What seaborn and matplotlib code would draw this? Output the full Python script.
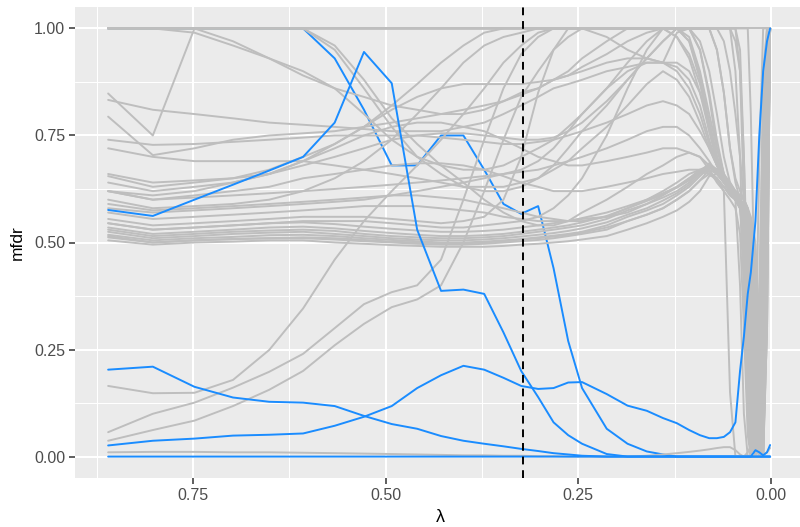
import matplotlib
matplotlib.use("Agg")
import matplotlib.pyplot as plt
import numpy as np
import pandas as pd
import seaborn as sns
from matplotlib.ticker import FixedLocator

# ---------------- data ----------------
lam = [0.860, 0.802, 0.748, 0.698, 0.651, 0.607, 0.566, 0.528, 0.492, 0.459,
       0.428, 0.399, 0.372, 0.347, 0.324, 0.302, 0.282, 0.263, 0.245, 0.213,
       0.186, 0.161, 0.140, 0.122, 0.106, 0.092, 0.080, 0.070, 0.061, 0.053,
       0.046, 0.040, 0.035, 0.030, 0.026, 0.020, 0.015, 0.010, 0.005, 0.001]

lambda_selected = 0.321

# highlighted (blue) variables
blueA = [1.0, 1.0, 1.0, 1.0, 1.0, 1.0, 0.93, 0.81, 0.68, 0.68,
         0.75, 0.75, 0.67, 0.59, 0.567, 0.585, 0.44, 0.27, 0.16, 0.065,
         0.03, 0.012, 0.005, 0.0, 0.0, 0.0, 0.0, 0.0, 0.0, 0.0,
         0.0, 0.0, 0.0, 0.0, 0.0, 0.0, 0.0, 0.0, 0.0, 0.0]
blueB = [0.576, 0.562, 0.60, 0.635, 0.668, 0.70, 0.78, 0.945, 0.872, 0.53,
         0.387, 0.39, 0.38, 0.29, 0.20, 0.139, 0.08, 0.05, 0.03, 0.006,
         0.0, 0.0, 0.0, 0.0, 0.0, 0.0, 0.0, 0.0, 0.0, 0.0,
         0.0, 0.0, 0.0, 0.0, 0.0, 0.0, 0.0, 0.0, 0.0, 0.0]
blueC = [0.203, 0.21, 0.163, 0.138, 0.128, 0.126, 0.118, 0.095, 0.076, 0.065,
         0.048, 0.037, 0.03, 0.024, 0.018, 0.013, 0.008, 0.005, 0.002, 0.0,
         0.0, 0.0, 0.0, 0.0, 0.0, 0.0, 0.0, 0.0, 0.0, 0.0,
         0.0, 0.0, 0.0, 0.0, 0.0, 0.0, 0.0, 0.0, 0.0, 0.0]
blueD = [0.026, 0.037, 0.042, 0.049, 0.051, 0.054, 0.072, 0.093, 0.118, 0.16,
         0.19, 0.212, 0.203, 0.184, 0.165, 0.158, 0.16, 0.173, 0.174, 0.146,
         0.119, 0.107, 0.09, 0.078, 0.062, 0.05, 0.043, 0.043, 0.046, 0.057,
         0.08, 0.20, 0.28, 0.38, 0.43, 0.55, 0.75, 0.90, 0.97, 1.0]
blueE = [0.0, 0.0, 0.0, 0.0, 0.0, 0.0, 0.0, 0.0, 0.0, 0.0,
         0.0, 0.0, 0.0, 0.0, 0.0, 0.0, 0.0, 0.0, 0.0, 0.0,
         0.0, 0.0, 0.0, 0.0, 0.0, 0.0, 0.0, 0.0, 0.0, 0.0,
         0.0, 0.0, 0.0, 0.0, 0.0, 0.015, 0.01, 0.003, 0.01, 0.027]

# other (grey) variables
g01 = [1.0, 1.0, 1.0, 1.0, 1.0, 1.0, 1.0, 1.0, 1.0, 1.0,
       1.0, 1.0, 1.0, 1.0, 1.0, 1.0, 1.0, 1.0, 1.0, 1.0,
       1.0, 1.0, 1.0, 1.0, 1.0, 1.0, 1.0, 1.0, 1.0, 1.0,
       1.0, 1.0, 1.0, 1.0, 1.0, 1.0, 1.0, 1.0, 1.0, 1.0]
g02 = [1.0, 1.0, 1.0, 1.0, 1.0, 1.0, 1.0, 1.0, 1.0, 1.0,
       1.0, 1.0, 1.0, 1.0, 1.0, 1.0, 1.0, 1.0, 1.0, 1.0,
       1.0, 1.0, 1.0, 1.0, 1.0, 1.0, 1.0, 1.0, 1.0, 1.0,
       1.0, 0.95, 0.7, 0.35, 0.1, 0.0, 0.1, 0.5, 0.9, 1.0]
g03 = [1.0, 1.0, 1.0, 1.0, 1.0, 1.0, 1.0, 1.0, 1.0, 1.0,
       1.0, 1.0, 1.0, 1.0, 1.0, 1.0, 1.0, 1.0, 1.0, 1.0,
       1.0, 1.0, 1.0, 1.0, 1.0, 1.0, 1.0, 1.0, 1.0, 1.0,
       1.0, 1.0, 1.0, 1.0, 0.8, 0.3, 0.05, 0.3, 0.8, 1.0]
g04 = [1.0, 1.0, 1.0, 1.0, 1.0, 1.0, 1.0, 1.0, 1.0, 1.0,
       1.0, 1.0, 1.0, 1.0, 1.0, 1.0, 1.0, 1.0, 1.0, 0.98,
       0.95, 0.93, 0.92, 0.99, 1.0, 1.0, 1.0, 1.0, 1.0, 1.0,
       0.97, 0.9, 0.7, 0.4, 0.15, 0.0, 0.05, 0.4, 0.85, 1.0]
g05 = [1.0, 1.0, 1.0, 0.97, 0.93, 0.89, 0.86, 0.84, 0.82, 0.81,
       0.80, 0.80, 0.81, 0.83, 0.85, 0.86, 0.88, 0.89, 0.90, 0.92,
       0.93, 0.93, 0.92, 0.91, 0.88, 0.82, 0.74, 0.68, 0.64, 0.62,
       0.61, 0.60, 0.58, 0.55, 0.45, 0.20, 0.02, 0.10, 0.60, 1.0]
g06 = [1.0, 1.0, 0.99, 0.96, 0.93, 0.90, 0.86, 0.80, 0.74, 0.70,
       0.68, 0.67, 0.67, 0.68, 0.70, 0.72, 0.74, 0.77, 0.80, 0.86,
       0.92, 0.97, 1.0, 1.0, 0.97, 0.88, 0.76, 0.69, 0.65, 0.63,
       0.61, 0.60, 0.59, 0.57, 0.50, 0.30, 0.05, 0.0, 0.4, 1.0]
g07 = [1.0, 1.0, 1.0, 1.0, 1.0, 1.0, 0.95, 0.86, 0.77, 0.70,
       0.66, 0.63, 0.62, 0.62, 0.63, 0.65, 0.68, 0.72, 0.76, 0.82,
       0.88, 0.93, 0.97, 1.0, 1.0, 0.95, 0.84, 0.72, 0.66, 0.62,
       0.60, 0.59, 0.58, 0.56, 0.52, 0.40, 0.15, 0.0, 0.3, 1.0]
g08 = [1.0, 1.0, 1.0, 1.0, 1.0, 1.0, 0.96, 0.88, 0.79, 0.73,
       0.68, 0.64, 0.60, 0.57, 0.55, 0.54, 0.54, 0.55, 0.57, 0.60,
       0.63, 0.66, 0.68, 0.70, 0.71, 0.70, 0.67, 0.64, 0.62, 0.60,
       0.58, 0.52, 0.30, 0.05, 0.0, 0.0, 0.1, 0.4, 0.8, 1.0]
g09 = [0.848, 0.75, 1.0, 1.0, 1.0, 1.0, 1.0, 1.0, 1.0, 1.0,
       1.0, 1.0, 1.0, 1.0, 1.0, 1.0, 1.0, 1.0, 1.0, 1.0,
       1.0, 1.0, 1.0, 1.0, 1.0, 0.97, 0.90, 0.80, 0.70, 0.64,
       0.62, 0.60, 0.55, 0.30, 0.05, 0.0, 0.2, 0.7, 1.0, 1.0]
g10 = [0.833, 0.81, 0.80, 0.79, 0.78, 0.775, 0.77, 0.765, 0.76, 0.76,
       0.76, 0.77, 0.78, 0.80, 0.82, 0.84, 0.86, 0.87, 0.88, 0.90,
       0.91, 0.92, 0.92, 0.92, 0.90, 0.85, 0.78, 0.70, 0.65, 0.62,
       0.61, 0.60, 0.58, 0.55, 0.50, 0.35, 0.10, 0.0, 0.5, 1.0]
g11 = [0.794, 0.704, 0.72, 0.74, 0.75, 0.755, 0.76, 0.77, 0.78, 0.79,
       0.80, 0.81, 0.82, 0.83, 0.845, 0.86, 0.88, 0.90, 0.93, 0.97,
       1.0, 1.0, 1.0, 0.98, 0.93, 0.85, 0.76, 0.69, 0.65, 0.62,
       0.60, 0.58, 0.56, 0.50, 0.30, 0.10, 0.0, 0.05, 0.5, 1.0]
g12 = [0.74, 0.728, 0.73, 0.735, 0.74, 0.745, 0.75, 0.75, 0.75, 0.75,
       0.745, 0.74, 0.735, 0.73, 0.73, 0.735, 0.74, 0.75, 0.76, 0.78,
       0.80, 0.82, 0.83, 0.82, 0.80, 0.76, 0.72, 0.68, 0.65, 0.63,
       0.62, 0.60, 0.45, 0.15, 0.0, 0.0, 0.1, 0.5, 0.9, 1.0]
g13 = [0.72, 0.70, 0.69, 0.69, 0.69, 0.69, 0.68, 0.67, 0.66, 0.65,
       0.64, 0.63, 0.63, 0.63, 0.64, 0.65, 0.67, 0.69, 0.72, 0.77,
       0.82, 0.87, 0.90, 0.88, 0.84, 0.78, 0.72, 0.68, 0.65, 0.63,
       0.61, 0.60, 0.58, 0.52, 0.40, 0.10, 0.0, 0.2, 0.7, 1.0]
g14 = [0.66, 0.64, 0.645, 0.65, 0.66, 0.68, 0.70, 0.72, 0.74, 0.75,
       0.755, 0.755, 0.75, 0.745, 0.74, 0.74, 0.745, 0.76, 0.78, 0.83,
       0.88, 0.93, 0.97, 1.0, 0.98, 0.90, 0.80, 0.72, 0.66, 0.63,
       0.61, 0.59, 0.57, 0.50, 0.25, 0.05, 0.0, 0.3, 0.8, 1.0]
g15 = [0.655, 0.63, 0.64, 0.65, 0.67, 0.70, 0.73, 0.77, 0.81, 0.84,
       0.86, 0.87, 0.87, 0.87, 0.87, 0.875, 0.88, 0.89, 0.91, 0.94,
       0.97, 0.99, 1.0, 1.0, 0.97, 0.89, 0.78, 0.70, 0.65, 0.62,
       0.60, 0.59, 0.58, 0.55, 0.45, 0.20, 0.0, 0.1, 0.6, 1.0]
g16 = [0.64, 0.62, 0.63, 0.64, 0.66, 0.69, 0.72, 0.75, 0.77, 0.78,
       0.78, 0.77, 0.76, 0.74, 0.72, 0.70, 0.69, 0.68, 0.68, 0.69,
       0.70, 0.71, 0.72, 0.72, 0.71, 0.70, 0.68, 0.66, 0.64, 0.62,
       0.60, 0.58, 0.50, 0.25, 0.05, 0.0, 0.05, 0.4, 0.9, 1.0]
g17 = [0.62, 0.60, 0.61, 0.62, 0.63, 0.65, 0.66, 0.67, 0.68, 0.685,
       0.685, 0.68, 0.67, 0.655, 0.64, 0.63, 0.62, 0.62, 0.62, 0.63,
       0.64, 0.65, 0.66, 0.665, 0.67, 0.67, 0.665, 0.65, 0.63, 0.61,
       0.60, 0.59, 0.58, 0.56, 0.50, 0.30, 0.05, 0.0, 0.3, 1.0]
g18 = [0.62, 0.61, 0.62, 0.64, 0.66, 0.69, 0.73, 0.77, 0.82, 0.87,
       0.92, 0.96, 0.99, 1.0, 1.0, 1.0, 1.0, 1.0, 1.0, 1.0,
       1.0, 1.0, 1.0, 1.0, 1.0, 1.0, 1.0, 0.95, 0.85, 0.72,
       0.64, 0.60, 0.55, 0.30, 0.05, 0.0, 0.3, 0.9, 1.0, 1.0]
g19 = [0.62, 0.60, 0.605, 0.61, 0.615, 0.62, 0.625, 0.63, 0.635, 0.64,
       0.645, 0.65, 0.655, 0.66, 0.665, 0.67, 0.68, 0.69, 0.70, 0.72,
       0.74, 0.76, 0.77, 0.77, 0.75, 0.72, 0.69, 0.66, 0.64, 0.62,
       0.61, 0.60, 0.59, 0.57, 0.55, 0.45, 0.20, 0.02, 0.3, 1.0]
g20 = [0.60, 0.58, 0.585, 0.59, 0.60, 0.62, 0.65, 0.69, 0.74, 0.80,
       0.86, 0.92, 0.96, 0.98, 0.99, 1.0, 1.0, 1.0, 1.0, 1.0,
       1.0, 1.0, 1.0, 1.0, 1.0, 1.0, 1.0, 1.0, 1.0, 1.0,
       0.9, 0.7, 0.4, 0.1, 0.0, 0.2, 0.7, 1.0, 1.0, 1.0]
g21 = [0.59, 0.575, 0.58, 0.585, 0.59, 0.595, 0.60, 0.605, 0.61, 0.61,
       0.605, 0.60, 0.59, 0.58, 0.57, 0.56, 0.555, 0.55, 0.55, 0.56,
       0.58, 0.60, 0.62, 0.64, 0.66, 0.67, 0.665, 0.65, 0.63, 0.61,
       0.60, 0.59, 0.45, 0.10, 0.0, 0.0, 0.05, 0.3, 0.8, 1.0]
g22 = [0.58, 0.57, 0.575, 0.58, 0.585, 0.59, 0.595, 0.60, 0.61, 0.62,
       0.63, 0.64, 0.65, 0.66, 0.67, 0.69, 0.72, 0.76, 0.80, 0.86,
       0.90, 0.92, 0.92, 0.90, 0.86, 0.80, 0.73, 0.68, 0.65, 0.63,
       0.62, 0.61, 0.60, 0.58, 0.56, 0.50, 0.30, 0.05, 0.5, 1.0]
g23 = [0.57, 0.555, 0.56, 0.565, 0.57, 0.575, 0.58, 0.585, 0.585, 0.585,
       0.58, 0.575, 0.57, 0.56, 0.555, 0.55, 0.55, 0.55, 0.555, 0.56,
       0.57, 0.59, 0.61, 0.63, 0.65, 0.665, 0.66, 0.645, 0.63, 0.615,
       0.60, 0.59, 0.58, 0.56, 0.30, 0.05, 0.0, 0.2, 0.7, 1.0]
g24 = [0.555, 0.54, 0.545, 0.55, 0.555, 0.56, 0.56, 0.56, 0.555, 0.55,
       0.545, 0.55, 0.56, 0.60, 0.70, 0.85, 0.95, 1.0, 1.0, 1.0,
       1.0, 1.0, 1.0, 1.0, 1.0, 1.0, 1.0, 1.0, 1.0, 1.0,
       1.0, 0.9, 0.6, 0.2, 0.0, 0.1, 0.4, 0.8, 1.0, 1.0]
g25 = [0.545, 0.53, 0.535, 0.54, 0.545, 0.55, 0.55, 0.55, 0.545, 0.54,
       0.535, 0.535, 0.54, 0.545, 0.55, 0.56, 0.58, 0.61, 0.65, 0.75,
       0.86, 0.95, 1.0, 1.0, 1.0, 0.95, 0.85, 0.74, 0.66, 0.62,
       0.60, 0.58, 0.55, 0.40, 0.10, 0.0, 0.0, 0.2, 0.7, 1.0]
b1 = [0.505, 0.495, 0.50, 0.502, 0.505, 0.505, 0.50, 0.497, 0.494, 0.492,
      0.49, 0.49, 0.49, 0.492, 0.495, 0.497, 0.50, 0.503, 0.507, 0.515,
      0.53, 0.545, 0.56, 0.575, 0.595, 0.62, 0.655, 0.66, 0.645, 0.625,
      0.615, 0.60, 0.55, 0.30, 0.05, 0.0, 0.02, 0.2, 0.7, 1.0]
b2 = [0.512, 0.50, 0.505, 0.508, 0.51, 0.51, 0.507, 0.503, 0.50, 0.497,
      0.495, 0.495, 0.497, 0.50, 0.503, 0.506, 0.51, 0.515, 0.52, 0.53,
      0.55, 0.565, 0.58, 0.60, 0.62, 0.645, 0.67, 0.66, 0.64, 0.62,
      0.60, 0.58, 0.56, 0.50, 0.20, 0.0, 0.1, 0.5, 0.9, 1.0]
b3 = [0.518, 0.505, 0.51, 0.513, 0.517, 0.518, 0.515, 0.51, 0.506, 0.503,
      0.50, 0.50, 0.502, 0.505, 0.508, 0.512, 0.516, 0.52, 0.525, 0.54,
      0.56, 0.575, 0.59, 0.61, 0.63, 0.655, 0.675, 0.665, 0.645, 0.625,
      0.61, 0.59, 0.40, 0.10, 0.0, 0.0, 0.05, 0.3, 0.8, 1.0]
b4 = [0.525, 0.51, 0.515, 0.52, 0.523, 0.525, 0.52, 0.515, 0.51, 0.507,
      0.505, 0.505, 0.507, 0.51, 0.514, 0.518, 0.522, 0.527, 0.533, 0.547,
      0.565, 0.58, 0.598, 0.615, 0.635, 0.66, 0.68, 0.67, 0.65, 0.63,
      0.62, 0.61, 0.60, 0.58, 0.55, 0.40, 0.10, 0.0, 0.4, 1.0]
b5 = [0.53, 0.515, 0.52, 0.525, 0.528, 0.53, 0.527, 0.52, 0.515, 0.512,
      0.51, 0.51, 0.512, 0.515, 0.52, 0.525, 0.53, 0.535, 0.54, 0.555,
      0.575, 0.59, 0.605, 0.62, 0.64, 0.665, 0.685, 0.67, 0.655, 0.635,
      0.615, 0.60, 0.59, 0.57, 0.50, 0.20, 0.0, 0.1, 0.6, 1.0]
b6 = [0.535, 0.52, 0.525, 0.53, 0.535, 0.537, 0.533, 0.527, 0.522, 0.518,
      0.515, 0.515, 0.517, 0.52, 0.525, 0.53, 0.535, 0.54, 0.547, 0.562,
      0.58, 0.597, 0.612, 0.628, 0.645, 0.665, 0.675, 0.665, 0.65, 0.63,
      0.60, 0.40, 0.10, 0.0, 0.0, 0.05, 0.2, 0.6, 0.95, 1.0]
b7 = [0.545, 0.53, 0.535, 0.54, 0.545, 0.547, 0.543, 0.537, 0.532, 0.528,
      0.525, 0.525, 0.527, 0.53, 0.535, 0.54, 0.545, 0.55, 0.557, 0.57,
      0.585, 0.60, 0.615, 0.63, 0.65, 0.67, 0.68, 0.67, 0.66, 0.64,
      0.62, 0.60, 0.58, 0.55, 0.45, 0.15, 0.0, 0.3, 0.8, 1.0]
b8 = [0.515, 0.50, 0.505, 0.508, 0.51, 0.512, 0.51, 0.506, 0.502, 0.50,
      0.498, 0.498, 0.50, 0.503, 0.507, 0.51, 0.514, 0.518, 0.523, 0.535,
      0.55, 0.565, 0.58, 0.60, 0.62, 0.645, 0.66, 0.65, 0.62, 0.15,
      0.0, 0.0, 0.0, 0.0, 0.0, 0.0, 0.02, 0.1, 0.5, 1.0]
l1 = [0.057, 0.10, 0.126, 0.161, 0.198, 0.24, 0.30, 0.356, 0.384, 0.40,
      0.46, 0.60, 0.74, 0.86, 0.94, 0.98, 1.0, 1.0, 1.0, 1.0,
      1.0, 1.0, 1.0, 1.0, 1.0, 1.0, 1.0, 1.0, 0.97, 0.90,
      0.80, 0.70, 0.60, 0.40, 0.10, 0.0, 0.1, 0.5, 0.9, 1.0]
l2 = [0.037, 0.062, 0.084, 0.118, 0.156, 0.20, 0.26, 0.31, 0.349, 0.367,
      0.40, 0.50, 0.62, 0.74, 0.84, 0.90, 0.95, 0.98, 1.0, 1.0,
      1.0, 1.0, 1.0, 1.0, 1.0, 1.0, 1.0, 0.95, 0.85, 0.72,
      0.65, 0.62, 0.60, 0.58, 0.50, 0.20, 0.0, 0.2, 0.7, 1.0]
l3 = [0.165, 0.148, 0.149, 0.179, 0.249, 0.346, 0.46, 0.55, 0.62, 0.68,
      0.74, 0.80, 0.86, 0.92, 0.96, 0.99, 1.0, 1.0, 1.0, 1.0,
      1.0, 1.0, 1.0, 0.98, 0.94, 0.87, 0.78, 0.70, 0.65, 0.62,
      0.61, 0.60, 0.58, 0.45, 0.15, 0.0, 0.05, 0.4, 0.9, 1.0]
l4 = [0.010, 0.011, 0.011, 0.010, 0.010, 0.009, 0.008, 0.007, 0.006, 0.005,
      0.004, 0.003, 0.003, 0.002, 0.002, 0.001, 0.001, 0.0, 0.0, 0.0,
      0.0, 0.002, 0.005, 0.008, 0.011, 0.014, 0.017, 0.020, 0.022, 0.022,
      0.015, 0.005, 0.0, 0.010, 0.025, 0.030, 0.010, 0.005, 0.010, 0.020]

grey_vars = {"g01": g01, "g02": g02, "g03": g03, "g04": g04, "g05": g05,
             "g06": g06, "g07": g07, "g08": g08, "g09": g09, "g10": g10,
             "g11": g11, "g12": g12, "g13": g13, "g14": g14, "g15": g15,
             "g16": g16, "g17": g17, "g18": g18, "g19": g19, "g20": g20,
             "g21": g21, "g22": g22, "g23": g23, "g24": g24, "g25": g25,
             "b1": b1, "b2": b2, "b3": b3, "b4": b4, "b5": b5, "b6": b6,
             "b7": b7, "b8": b8, "l1": l1, "l2": l2, "l3": l3, "l4": l4}
blue_under = {"A": blueA}          # drawn beneath the grey lines
blue_over = {"B": blueB, "C": blueC, "D": blueD, "E": blueE}


def long_df(d):
    rows = []
    for name, vals in d.items():
        assert len(vals) == len(lam), name
        for x, y in zip(lam, vals):
            rows.append((name, x, y))
    return pd.DataFrame(rows, columns=["var", "lam", "mfdr"])


grey_df = long_df(grey_vars)
blue_under_df = long_df(blue_under)
blue_over_df = long_df(blue_over)

# ---------------- style ----------------
sns.set_theme(style="darkgrid")
plt.rcParams["font.family"] = ["Liberation Sans", "DejaVu Sans"]

W, H = 800, 527
fig = plt.figure(figsize=(W / 100, H / 100), dpi=100)
left, right, top, bottom = 75, 804, 7, 478
ax = fig.add_axes([left / W, (H - bottom) / H, (right - left) / W, (bottom - top) / H])
ax.set_facecolor("#EBEBEB")

GREY = "#BEBEBE"
BLUE = "#1A8CFF"

common = dict(x="lam", y="mfdr", units="var", estimator=None,
              linewidth=1.4, legend=False, ax=ax, sort=False)
sns.lineplot(data=blue_under_df, color=BLUE, **common)
sns.lineplot(data=grey_df, color=GREY, **common)
sns.lineplot(data=blue_over_df, color=BLUE, **common)
ax.axvline(lambda_selected, color="black", linewidth=1.4, linestyle=(0, (4, 3)))

ax.set_xlim(0.903, -0.043)
ax.set_ylim(-0.05, 1.05)

ax.xaxis.set_major_locator(FixedLocator([0.75, 0.5, 0.25, 0.0]))
ax.xaxis.set_minor_locator(FixedLocator([0.875, 0.625, 0.375, 0.125]))
ax.yaxis.set_major_locator(FixedLocator([0.0, 0.25, 0.5, 0.75, 1.0]))
ax.yaxis.set_minor_locator(FixedLocator([0.125, 0.375, 0.625, 0.875]))
ax.set_xticklabels(["0.75", "0.50", "0.25", "0.00"])
ax.set_yticklabels(["0.00", "0.25", "0.50", "0.75", "1.00"])

ax.grid(which="major", color="white", linewidth=1.5)
ax.grid(which="minor", color="white", linewidth=0.75)
ax.set_axisbelow(True)
for s in ax.spines.values():
    s.set_visible(False)

ax.tick_params(axis="both", which="major", length=4, width=1.1, color="#333333",
               labelcolor="#4D4D4D", labelsize=11.5, pad=3, bottom=True, left=True)
ax.tick_params(axis="both", which="minor", length=0)

ax.set_xlabel("λ", fontsize=13, color="black")
ax.set_ylabel("mfdr", fontsize=12.5, color="black")
ax.xaxis.label.set_va("center")
ax.yaxis.label.set_va("center")
ax.xaxis.set_label_coords((440 - left) / (right - left), (bottom - 517) / (bottom - top))
ax.yaxis.set_label_coords((17 - left) / (right - left), 0.5)

fig.savefig("out.png", dpi=100)
